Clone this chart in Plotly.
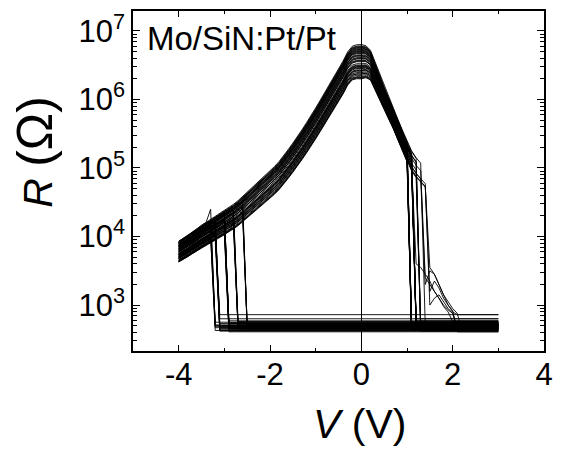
import numpy as np
import plotly.graph_objects as go

# ---------------- data ----------------
# HRS branch on the negative side (log10 R), V = -4.0 ... 0.0 step 0.1
hrs_neg_v = [round(-4.0 + 0.1 * i, 1) for i in range(41)]
hrs_neg_log = [3.78, 3.82, 3.86, 3.91, 3.95, 4.00, 4.04, 4.08, 4.12, 4.16,
               4.20, 4.25, 4.29, 4.34, 4.40, 4.45, 4.51, 4.57, 4.63, 4.69,
               4.75, 4.82, 4.89, 4.97, 5.06, 5.15, 5.24, 5.34, 5.44, 5.54,
               5.65, 5.76, 5.87, 5.98, 6.10, 6.21, 6.32, 6.45, 6.53, 6.55,
               6.55]
# HRS branch on the positive side (log10 R), V = 0.0 ... 1.6 step 0.1
hrs_pos_v = [round(0.1 * i, 1) for i in range(17)]
hrs_pos_log = [6.55, 6.55, 6.50, 6.35, 6.18, 6.02, 5.87, 5.72, 5.56, 5.40,
               5.24, 5.10, 5.00, 4.92, 4.85, 4.78, 4.72]

# per-cycle spread of the HRS band (decades) near -4 V and near 0 V
hrs_lo = [0.07, -0.10, 0.13, -0.03, 0.09, -0.14, 0.00, 0.15, -0.06, 0.04,
          -0.12, 0.10, -0.04, 0.08, -0.15, 0.01, 0.12, -0.08, 0.05, -0.01,
          0.14, -0.09, 0.03, -0.13, 0.08, -0.05, 0.10, -0.03, 0.13, -0.10,
          0.04, -0.07, 0.09, 0.00, -0.14, 0.06, -0.04, 0.12, -0.08, 0.02]
hrs_hi = [0.12, -0.18, 0.22, -0.05, 0.16, -0.24, 0.02, 0.25, -0.10, 0.06,
          -0.20, 0.18, -0.08, 0.14, -0.25, 0.00, 0.20, -0.14, 0.09, -0.03,
          0.23, -0.16, 0.05, -0.22, 0.13, -0.09, 0.17, -0.06, 0.21, -0.18,
          0.08, -0.12, 0.15, 0.01, -0.23, 0.10, -0.07, 0.19, -0.13, 0.04]
# LRS level per cycle (log10 R)
lrs_log = [2.70, 2.66, 2.74, 2.68, 2.72, 2.63, 2.77, 2.69, 2.65, 2.71,
           2.86, 2.67, 2.73, 2.62, 2.70, 2.75, 2.68, 2.64, 2.72, 2.69,
           2.66, 2.80, 2.71, 2.61, 2.74, 2.67, 2.70, 2.65, 2.73, 2.68,
           2.76, 2.63, 2.70, 2.66, 2.72, 2.69, 2.64, 2.71, 2.67, 2.74]
# SET and RESET voltages per cycle
set_v = [1.1, 1.2, 1.1, 1.2, 1.3, 1.1, 1.2, 1.4, 1.1, 1.2,
         1.5, 1.1, 1.2, 1.3, 1.1, 1.2, 1.1, 1.4, 1.2, 1.1,
         1.3, 1.2, 1.1, 1.5, 1.2, 1.1, 1.2, 1.3, 1.1, 1.2,
         1.4, 1.1, 1.2, 1.1, 1.3, 1.2, 1.1, 1.2, 1.5, 1.1]
reset_v = [-3.3, -3.2, -3.0, -2.8, -2.6, -3.2, -3.0, -3.3, -2.8, -3.0,
           -3.2, -2.6, -3.0, -3.2, -2.8, -3.3, -3.0, -3.2, -2.6, -2.8,
           -3.0, -3.2, -3.3, -3.0, -2.8, -3.2, -3.0, -2.6, -3.2, -3.0,
           -2.8, -3.3, -3.2, -3.0, -2.8, -3.2, -3.0, -2.6, -3.3, -3.0]
reset_bump = [0.0, 0.20, 0.0, 0.06, -0.12, 0.0, 0.05, 0.15, 0.0, 0.0,
              0.08, 0.0, 0.0, 0.0, 0.10, 0.0, 0.0, 0.05, -0.15, 0.0,
              0.0, 0.0, 0.12, 0.0, 0.0, 0.0, 0.05, 0.0, 0.0, 0.0,
              0.0, 0.0, 0.0, 0.04, 0.0, 0.0, 0.0, -0.10, 0.0, 0.0]
# intermediate values right after SET for a few cycles (log10 R, from set_v on)
set_tails = {
    3: [3.60, 3.55, 3.45, 3.35, 3.20, 3.10, 3.00, 2.93, 2.88],
    10: [3.55, 3.45, 3.30, 3.15, 3.00, 2.90],
    17: [3.30, 3.50, 3.45, 3.30, 3.15, 3.05, 2.95, 2.88],
    23: [3.20, 3.35, 3.25, 3.10, 3.00, 2.92],
    30: [3.40, 3.30, 3.20, 3.10, 2.98, 2.90],
    38: [3.00, 3.10, 3.15, 3.05, 2.95, 2.88],
}

x_ticks = [-4, -2, 0, 2, 4]
x_ticktext = ["-4", "-2", "0", "2", "4"]
y_ticks = [1e3, 1e4, 1e5, 1e6, 1e7]
y_ticktext = ["10<sup>3</sup>", "10<sup>4</sup>", "10<sup>5</sup>",
              "10<sup>6</sup>", "10<sup>7</sup>"]
label = "Mo/SiN:Pt/Pt"

# ---------------- build the cycles ----------------
neg_map = dict(zip(hrs_neg_v, hrs_neg_log))
pos_map = dict(zip(hrs_pos_v, hrs_pos_log))


def steps(a, b):
    n = int(round(abs(b - a) / 0.1))
    s = 1 if b >= a else -1
    return [round(a + s * 0.1 * k, 1) for k in range(n + 1)]


fig = go.Figure()
for i in range(len(lrs_log)):
    lo, hi, lr = hrs_lo[i], hrs_hi[i], lrs_log[i]
    vs, ls = [], []
    # 0 -> set (HRS)
    for v in steps(0.0, round(set_v[i] - 0.1, 1)):
        w = min(v / 0.6, 1.0)
        vs.append(v)
        ls.append(pos_map[v] + hi + (lo - hi) * w)
    # set -> 3 V (LRS, possibly with tail)
    tail = set_tails.get(i, [])
    for k, v in enumerate(steps(set_v[i], 3.0)):
        vs.append(v)
        ls.append(tail[k] if k < len(tail) else lr)
    # 3 V -> reset (LRS)
    for v in steps(2.9, round(reset_v[i] + 0.1, 1)):
        vs.append(v)
        ls.append(lr)
    # reset -> -4 V (HRS)
    for k, v in enumerate(steps(reset_v[i], -4.0)):
        w = (v + 4.0) / 4.0
        vs.append(v)
        ls.append(neg_map[v] + lo + (hi - lo) * w + (reset_bump[i] if k == 0 else 0))
    # -4 V -> 0 (HRS)
    for v in steps(-3.9, 0.0):
        w = (v + 4.0) / 4.0
        vs.append(v)
        ls.append(neg_map[v] + lo + (hi - lo) * w)
    fig.add_trace(go.Scatter(
        x=vs, y=[10 ** l for l in ls], mode="lines",
        line=dict(color="black", width=0.9), showlegend=False,
        hoverinfo="skip"))

minor_y = [k * 10 ** d for d in range(2, 8) for k in range(2, 10)]

font = "Liberation Sans, Arial, sans-serif"
fig.update_layout(
    width=562, height=457,
    margin=dict(l=133, r=11, t=9, b=106),
    paper_bgcolor="white", plot_bgcolor="white",
    font=dict(family=font, color="black"),
    xaxis=dict(
        range=[-5, 4], tickvals=x_ticks, ticktext=x_ticktext, ticks="inside",
        ticklen=6, tickwidth=1.2, tickcolor="black", showline=True,
        linecolor="black", linewidth=1.5, mirror="allticks", showgrid=False,
        zeroline=True, zerolinecolor="black", zerolinewidth=1,
        ticklabelstandoff=-5,
        tickfont=dict(size=31, family=font, color="black"),
        minor=dict(tickvals=[-5, -3, -1, 1, 3], ticks="inside", ticklen=3,
                   tickwidth=1, tickcolor="black", showgrid=False),
    ),
    yaxis=dict(
        type="log", range=[2.33, 7.29], tickvals=y_ticks, ticktext=y_ticktext,
        ticks="inside", ticklen=7, tickwidth=1.2, tickcolor="black",
        showline=True, linecolor="black", linewidth=1.5, mirror="allticks",
        showgrid=False, zeroline=False,
        tickfont=dict(size=31, family=font, color="black"),
        minor=dict(tickvals=minor_y, ticks="inside", ticklen=4, tickwidth=1,
                   tickcolor="black", showgrid=False),
    ),
    annotations=[
        dict(text=label, x=0.029, y=0.92, xref="paper", yref="paper",
             xanchor="left", yanchor="middle", showarrow=False,
             font=dict(size=33, family=font, color="black")),
        dict(text="<i>V</i> (V)", x=0.55, y=-0.216, xref="paper", yref="paper",
             xanchor="center", yanchor="middle", showarrow=False,
             font=dict(size=41, family=font, color="black")),
        dict(text="<i>R</i> <span style='font-size:50px'>(Ω)</span>",
             x=-0.239, y=0.585, xref="paper", yref="paper",
             xanchor="center", yanchor="middle", showarrow=False, textangle=-90,
             font=dict(size=41, family=font, color="black")),
    ],
)

fig.write_html("out.html")
